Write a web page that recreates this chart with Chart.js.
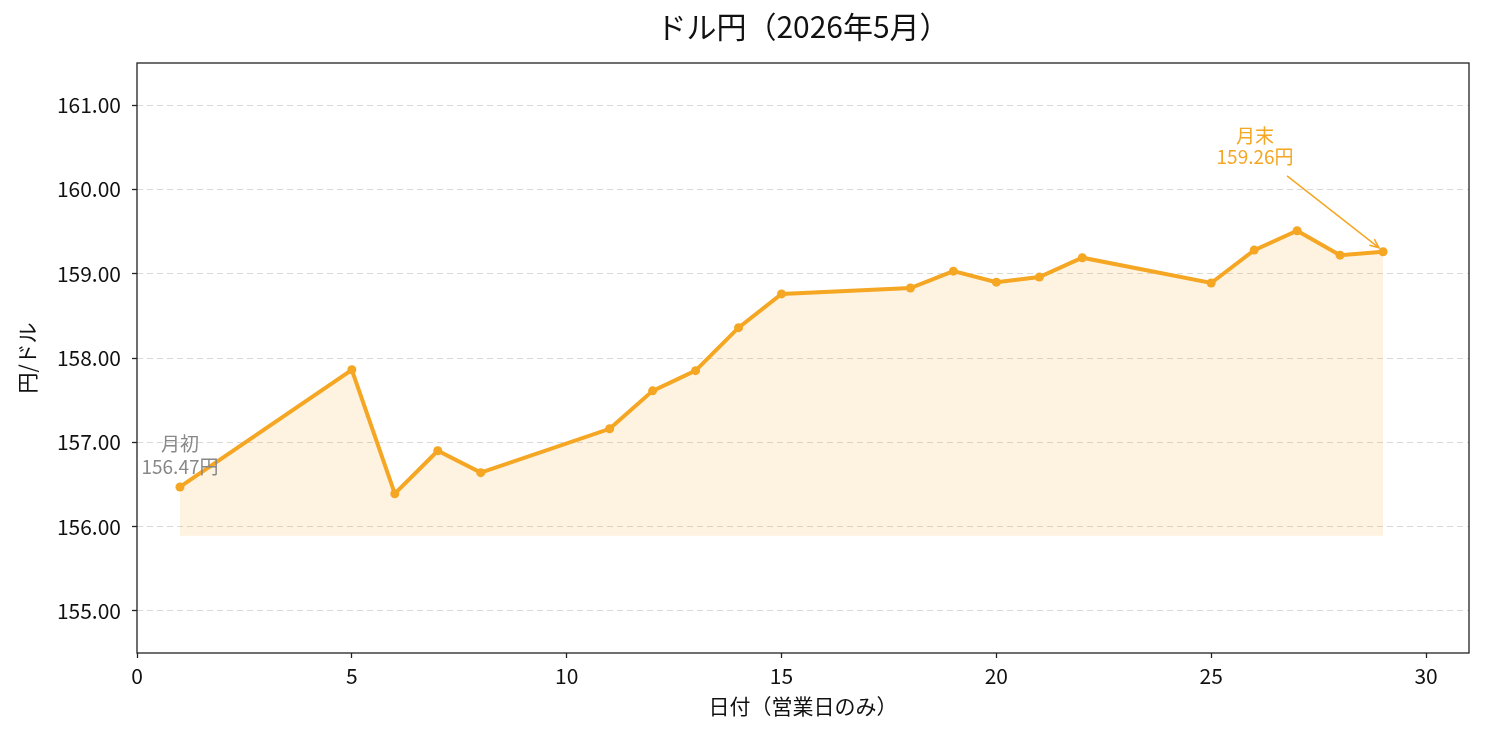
<!DOCTYPE html>
<html>
<head>
<meta charset="utf-8">
<script src="https://cdn.jsdelivr.net/npm/chart.js@4.4.1/dist/chart.umd.min.js"></script>
<style>
  body { margin: 0; background: #fff; }
  #wrap { width: 1485px; height: 735px; }
</style>
</head>
<body>
<div id="wrap"><canvas id="usdJpy"></canvas></div>
<script>
// 営業日（5月）
const days = [1, 5, 6, 7, 8, 11, 12, 13, 14, 15, 18, 19, 20, 21, 22, 25, 26, 27, 28, 29];
// ドル円レート
const rates = [156.47, 157.86, 156.39, 156.90, 156.64, 157.16, 157.61, 157.85, 158.36, 158.76,
  158.83, 159.03, 158.90, 158.96, 159.19, 158.89, 159.28, 159.51, 159.22, 159.26];
const xTicks = [0, 5, 10, 15, 20, 25, 30];
const yTicks = [155, 156, 157, 158, 159, 160, 161];
const fillBase = 155.89;
const chartTitle = "ドル円（2026年5月）";

const FONT = "'Noto Sans CJK JP', 'Noto Sans', sans-serif";
const ORANGE = "#f5a623";

const points = days.map((d, i) => ({ x: d, y: rates[i] }));

// タイトル（プロット領域の中央）、枠線、注釈
const extras = {
  id: "extras",
  afterDraw(chart) {
    const { ctx, chartArea: a, scales } = chart;
    ctx.save();
    ctx.fillStyle = "#111";
    ctx.font = "30px " + FONT;
    ctx.textAlign = "center";
    ctx.textBaseline = "middle";
    ctx.fillText(chartTitle, (a.left + a.right) / 2, 27);

    ctx.strokeStyle = "#222";
    ctx.lineWidth = 1.3;
    ctx.strokeRect(a.left, a.top, a.right - a.left, a.bottom - a.top);

    ctx.font = "19px " + FONT;

    // 月初
    const fx = scales.x.getPixelForValue(days[0]);
    const fy = scales.y.getPixelForValue(rates[0]);
    ctx.fillStyle = "#888";
    ctx.fillText("月初", fx, fy - 43);
    ctx.fillText(rates[0].toFixed(2) + "円", fx, fy - 20);

    // 月末
    const last = rates.length - 1;
    const lx = scales.x.getPixelForValue(days[last]);
    const ly = scales.y.getPixelForValue(rates[last]);
    ctx.fillStyle = ORANGE;
    ctx.fillText("月末", lx - 128, ly - 116);
    ctx.fillText(rates[last].toFixed(2) + "円", lx - 128, ly - 95);

    const sx = lx - 96, sy = ly - 76, ex = lx - 4, ey = ly - 4;
    ctx.strokeStyle = ORANGE;
    ctx.lineWidth = 1.5;
    ctx.beginPath();
    ctx.moveTo(sx, sy);
    ctx.lineTo(ex, ey);
    const ang = Math.atan2(ey - sy, ex - sx);
    ctx.moveTo(ex - 10 * Math.cos(ang - 0.4), ey - 10 * Math.sin(ang - 0.4));
    ctx.lineTo(ex, ey);
    ctx.lineTo(ex - 10 * Math.cos(ang + 0.4), ey - 10 * Math.sin(ang + 0.4));
    ctx.stroke();
    ctx.restore();
  }
};

new Chart(document.getElementById("usdJpy"), {
  type: "line",
  data: {
    datasets: [
      {
        data: points,
        borderColor: ORANGE,
        backgroundColor: "rgba(245, 166, 35, 0.14)",
        borderWidth: 4,
        pointRadius: 4.5,
        pointBackgroundColor: ORANGE,
        pointBorderWidth: 0,
        tension: 0,
        fill: { value: fillBase },
      },
    ],
  },
  options: {
    responsive: true,
    maintainAspectRatio: false,
    animation: false,
    layout: { padding: { left: 14, right: 16, top: 63, bottom: 0 } },
    plugins: {
      legend: { display: false },
      tooltip: { enabled: false },
      title: { display: false },
    },
    scales: {
      x: {
        type: "linear",
        min: 0,
        max: 31,
        afterBuildTicks: (s) => { s.ticks = xTicks.map((v) => ({ value: v })); },
        afterFit: (s) => { s.height = 82; },
        grid: { display: true, drawOnChartArea: false, tickColor: "#222", tickLength: 5, tickWidth: 1.3 },
        border: { display: false },
        ticks: { color: "#111", font: { family: FONT, size: 21 }, padding: 5, maxRotation: 0 },
        title: {
          display: true,
          text: "日付（営業日のみ）",
          color: "#111",
          font: { family: FONT, size: 21 },
          padding: { top: 0, bottom: 16 },
        },
      },
      y: {
        type: "linear",
        min: 154.5,
        max: 161.5,
        afterBuildTicks: (s) => { s.ticks = yTicks.map((v) => ({ value: v })); },
        afterFit: (s) => { s.width = 123; },
        grid: {
          color: "#d9d9d9",
          lineWidth: 1,
          tickColor: "#222",
          tickLength: 5,
          tickWidth: 1.3,
          tickBorderDash: [],
        },
        border: { display: false, dash: [6, 4] },
        ticks: {
          color: "#111",
          font: { family: FONT, size: 21 },
          padding: 11,
          callback: (v) => Number(v).toFixed(2),
        },
        title: {
          display: true,
          text: "円/ドル",
          color: "#111",
          font: { family: FONT, size: 21 },
          padding: 0,
        },
      },
    },
  },
  plugins: [extras],
});
</script>
</body>
</html>
